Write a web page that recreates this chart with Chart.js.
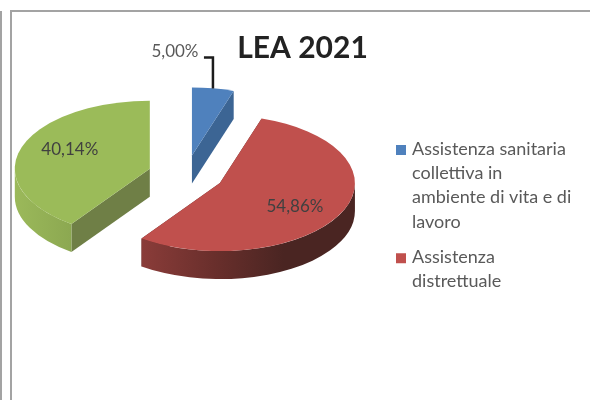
<!DOCTYPE html>
<html>
<head>
<meta charset="utf-8">
<script src="https://cdn.jsdelivr.net/npm/chart.js@4"></script>
<style>
html,body{margin:0;padding:0;background:#fff;width:590px;height:400px;overflow:hidden}
.rule{position:absolute;background:#a3a3a3}
canvas{position:absolute;left:0;top:0;filter:blur(0.55px)}
</style>
</head>
<body>
<div class="rule" style="left:0;top:11px;width:2px;height:389px"></div>
<div class="rule" style="left:10px;top:10px;width:2px;height:390px"></div>
<div class="rule" style="left:10px;top:10px;width:580px;height:2px"></div>
<canvas id="c" width="590" height="400"></canvas>
<script>
const chartTitle = 'LEA 2021';
const categories = [
  ['Assistenza sanitaria', 'collettiva in', 'ambiente di vita e di', 'lavoro'],
  ['Assistenza', 'distrettuale'],
  'Assistenza ospedaliera'
];
const shares = [5.00, 54.86, 40.14];
const topColors = ['#4F81BD', '#C0504D', '#9BBB59'];
const cutColors = ['#3C6594', '#5a2b28', '#6F7F46'];
const wallStops = [
  ['#3C6594', '#3C6594'],
  ['#8A3C39', '#6A2F2C', '#4A2522', '#4A2522'],
  ['#9BB95A', '#8CA851']
];
const legendVisible = 2;

const SQUASH = 68 / 135, EXPLODE = 38, DEPTH = 28;
const labelOffsets = [[-17, -104], [75, 23], [-80, -19]];
const leaderOffsets = [[12, -98], [21, -98], [21, -67]];

function swatch(color) {
  const s = document.createElement('canvas');
  s.width = 13; s.height = 18;
  const g = s.getContext('2d');
  g.fillStyle = color;
  g.fillRect(3, 5, 10, 10);
  return s;
}
function fmt(v) { return v.toFixed(2).replace('.', ',') + '%'; }
function lowerSpans(a0, a1) {
  const out = [];
  for (const [lo, hi] of [[0, Math.PI], [2 * Math.PI, 3 * Math.PI]]) {
    const s = Math.max(a0, lo), e = Math.min(a1, hi);
    if (e > s) out.push([s, e]);
  }
  return out;
}

const pie3d = {
  id: 'pie3d',
  afterLayout(chart) {
    const t = chart.titleBlock;
    t.left = 202.5; t.right = 402.5; t.top = 33; t.bottom = 63;
    const l = chart.legend;
    l.left = 385; l.right = 585; l.top = 129; l.bottom = 333;
  },
  beforeDatasetDraw(chart, args) {
    const ctx = chart.ctx;
    const arcs = args.meta.data;
    const centers = [];
    arcs.forEach((arc, i) => {
      const p = arc.getProps(['x', 'y', 'startAngle', 'endAngle', 'outerRadius'], true);
      const mid = (p.startAngle + p.endAngle) / 2;
      const cx = p.x + Math.cos(mid) * EXPLODE;
      const cy = p.y + Math.sin(mid) * EXPLODE * SQUASH;
      const R = p.outerRadius, Ry = R * SQUASH;
      centers.push([cx, cy]);

      // radial cut faces, extruded downward
      ctx.fillStyle = cutColors[i];
      for (const a of [p.startAngle, p.endAngle]) {
        const rx = cx + Math.cos(a) * R, ry = cy + Math.sin(a) * Ry;
        ctx.beginPath();
        ctx.moveTo(cx, cy); ctx.lineTo(rx, ry);
        ctx.lineTo(rx, ry + DEPTH); ctx.lineTo(cx, cy + DEPTH);
        ctx.closePath(); ctx.fill();
      }

      // curved outer wall
      for (const [s, e] of lowerSpans(p.startAngle, p.endAngle)) {
        const x0 = cx + Math.cos(e) * R, x1 = cx + Math.cos(s) * R;
        const g = ctx.createLinearGradient(x0, 0, x1, 0);
        wallStops[i].forEach((c, k, all) => g.addColorStop(k / (all.length - 1), c));
        ctx.fillStyle = g;
        ctx.beginPath();
        ctx.ellipse(cx, cy, R, Ry, 0, s, e);
        ctx.ellipse(cx, cy + DEPTH, R, Ry, 0, e, s, true);
        ctx.closePath(); ctx.fill();
      }

      // top face
      ctx.fillStyle = topColors[i];
      ctx.beginPath();
      ctx.moveTo(cx, cy);
      ctx.ellipse(cx, cy, R, Ry, 0, p.startAngle, p.endAngle);
      ctx.closePath(); ctx.fill();
    });

    // leader line for the smallest slice
    ctx.strokeStyle = '#1c1c1c';
    ctx.lineWidth = 2.5;
    ctx.beginPath();
    leaderOffsets.forEach(([dx, dy], k) => {
      const x = centers[0][0] + dx, y = centers[0][1] + dy;
      k ? ctx.lineTo(x, y) : ctx.moveTo(x, y);
    });
    ctx.stroke();

    // value labels
    ctx.font = '17px Lato';
    ctx.textAlign = 'center';
    ctx.textBaseline = 'middle';
    shares.forEach((v, i) => {
      ctx.fillStyle = i === 0 ? '#595959' : '#404040';
      ctx.fillText(fmt(v), centers[i][0] + labelOffsets[i][0], centers[i][1] + labelOffsets[i][1]);
    });
    return false;
  }
};

new Chart(document.getElementById('c'), {
  type: 'pie',
  data: {
    labels: categories,
    datasets: [{ data: shares, backgroundColor: topColors, borderWidth: 0 }]
  },
  options: {
    responsive: false,
    animation: false,
    events: [],
    layout: { padding: { left: 51, right: 269, top: 9.5, bottom: 90.5 } },
    plugins: {
      tooltip: { enabled: false },
      title: {
        display: true,
        text: chartTitle,
        color: '#222222',
        padding: 0,
        font: { family: 'Lato', size: 30, weight: 'bold', lineHeight: 1 }
      },
      legend: {
        position: 'chartArea',
        align: 'start',
        labels: {
          color: '#595959',
          font: { family: 'Lato', size: 18, lineHeight: 1.35 },
          boxWidth: 7,
          boxHeight: 10,
          padding: 11,
          usePointStyle: true,
          generateLabels(chart) {
            return Chart.overrides.doughnut.plugins.legend.labels.generateLabels(chart)
              .slice(0, legendVisible)
              .map((it, i) => Object.assign(it, { pointStyle: swatch(topColors[i]) }));
          }
        }
      }
    }
  },
  plugins: [pie3d]
});
</script>
</body>
</html>
